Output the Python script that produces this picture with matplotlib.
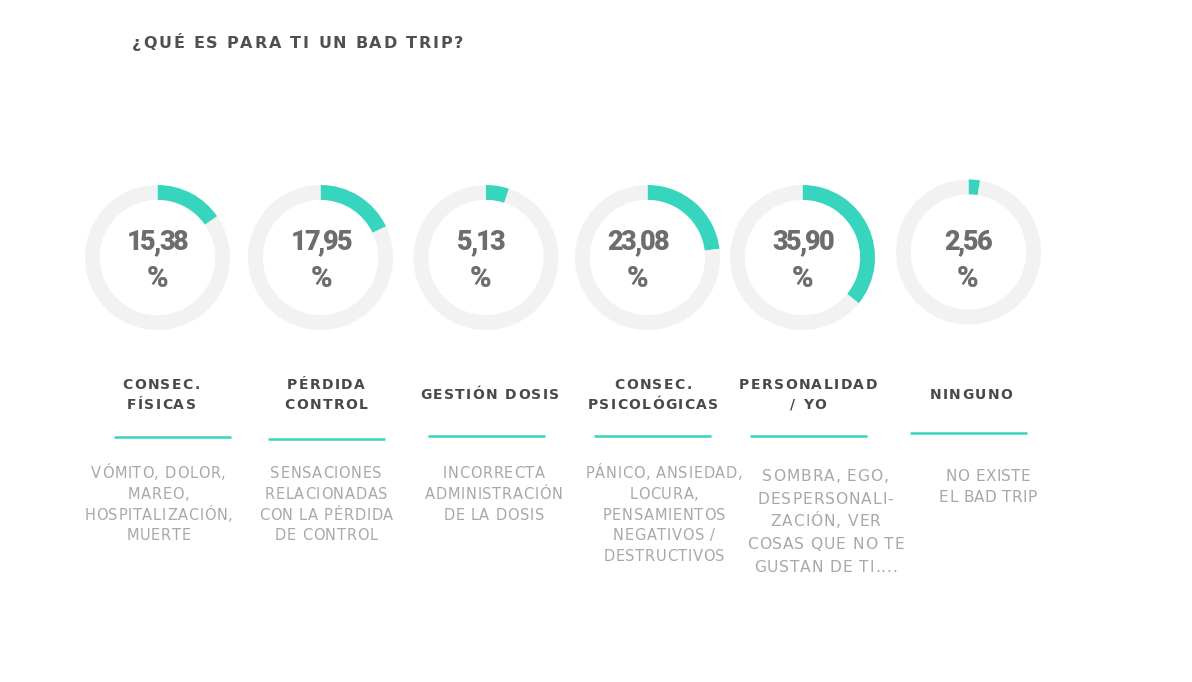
import matplotlib
matplotlib.use('Agg')
import matplotlib.pyplot as plt
from matplotlib.font_manager import FontProperties, findfont
from matplotlib.ft2font import FT2Font

# data
title = '¿QUÉ ES PARA TI UN BAD TRIP?'
values = [15.38, 17.95, 5.13, 23.08, 35.90, 2.56]
labels = [
    ['CONSEC.', 'FÍSICAS'],
    ['PÉRDIDA', 'CONTROL'],
    ['GESTIÓN DOSIS'],
    ['CONSEC.', 'PSICOLÓGICAS'],
    ['PERSONALIDAD', '/ YO'],
    ['NINGUNO'],
]
descriptions = [
    ['VÓMITO, DOLOR,', 'MAREO,', 'HOSPITALIZACIÓN,', 'MUERTE'],
    ['SENSACIONES', 'RELACIONADAS', 'CON LA PÉRDIDA', 'DE CONTROL'],
    ['INCORRECTA', 'ADMINISTRACIÓN', 'DE LA DOSIS'],
    ['PÁNICO, ANSIEDAD,', 'LOCURA,', 'PENSAMIENTOS', 'NEGATIVOS /', 'DESTRUCTIVOS'],
    ['SOMBRA, EGO,', 'DESPERSONALI-', 'ZACIÓN, VER', 'COSAS QUE NO TE', 'GUSTAN DE TI....'],
    ['NO EXISTE', 'EL BAD TRIP'],
]

# layout (pixels)
W, H, DPI = 1192, 682, 100
ring_x = [157.5, 320.5, 486, 647.5, 802.5, 968.5]
ring_y = [257.5, 257.5, 257.5, 257.5, 257.5, 252]
ring_r = 72.5
num_x = [157.5, 321.5, 481, 638, 803, 968]
label_x = [161, 326, 489.5, 653, 808, 971]
line_x = [172, 326.5, 486.5, 652.5, 808, 968]
line_y = [437, 439, 436, 436, 436, 433]
desc_x = [158.5, 326, 493.5, 664, 825.5, 988]
desc_top = [478, 478, 478, 478, 480.7, 480.7]
desc_step = [20.8, 20.8, 20.8, 20.8, 22.8, 21]
desc_size = [10.5, 10.5, 10.5, 10.5, 11.2, 11]
desc_track = [0.7, 0.7, 0.7, 0.7, 0.9, 0.4]

TEAL = '#37d4be'
RING = '#f2f2f2'
NUM_COLOR = '#6d6d6d'
LABEL_COLOR = '#4b4846'
DESC_COLOR = '#aaa7a7'
TITLE_COLOR = '#52504d'


def char_advances(text, prop):
    font = FT2Font(findfont(prop))
    font.set_size(prop.get_size_in_points(), DPI)
    return [font.load_char(ord(c)).linearHoriAdvance / 65536 for c in text]


def tracked_text(ax, x, y, text, prop, track, color, ha='center'):
    # matplotlib has no letter spacing, so place the characters one by one
    adv = char_advances(text, prop)
    total = sum(adv) + track * (len(text) - 1)
    x0 = x - total / 2 if ha == 'center' else x
    for c, a in zip(text, adv):
        ax.text(x0, y, c, fontproperties=prop, color=color, ha='left', va='baseline')
        x0 += a + track


fig = plt.figure(figsize=(W / DPI, H / DPI), dpi=DPI)
fig.patch.set_facecolor('white')
ax = fig.add_axes([0, 0, 1, 1])
ax.set_xlim(0, W)
ax.set_ylim(H, 0)
ax.axis('off')

title_prop = FontProperties(family='DejaVu Sans', weight='bold', size=11.5)
label_prop = FontProperties(family='DejaVu Sans', weight='bold', size=10)
num_prop = FontProperties(family='Roboto', weight='black', size=19.5)
pct_prop = FontProperties(family='Roboto', weight='black', size=21)

tracked_text(ax, 132, 47.7, title, title_prop, 1.8, TITLE_COLOR, ha='left')

for i, v in enumerate(values):
    # ring
    rax = fig.add_axes([(ring_x[i] - ring_r) / W, 1 - (ring_y[i] + ring_r) / H,
                        2 * ring_r / W, 2 * ring_r / H])
    rax.pie([v, 100 - v], colors=[TEAL, RING], startangle=90, counterclock=False,
            wedgeprops=dict(width=0.205, linewidth=0))
    rax.set_xlim(-1, 1)
    rax.set_ylim(-1, 1)
    rax.axis('off')

    # value
    tracked_text(ax, num_x[i], 250, f'{v:.2f}'.replace('.', ','), num_prop, -2.0, NUM_COLOR)
    tracked_text(ax, num_x[i], 286.7, '%', pct_prop, 0, NUM_COLOR)

    # category
    if len(labels[i]) == 1:
        tracked_text(ax, label_x[i], 399, labels[i][0], label_prop, 1.4, LABEL_COLOR)
    else:
        for j, line in enumerate(labels[i]):
            tracked_text(ax, label_x[i], 389.2 + j * 19.7, line, label_prop, 1.4, LABEL_COLOR)

    ax.plot([line_x[i] - 58.5, line_x[i] + 58.5], [line_y[i], line_y[i]],
            color=TEAL, lw=1.8, solid_capstyle='butt')

    # description
    desc_prop = FontProperties(family='DejaVu Sans', size=desc_size[i])
    for j, line in enumerate(descriptions[i]):
        tracked_text(ax, desc_x[i], desc_top[i] + j * desc_step[i], line, desc_prop,
                     desc_track[i], DESC_COLOR)

fig.savefig('out.png', dpi=DPI, facecolor='white')
